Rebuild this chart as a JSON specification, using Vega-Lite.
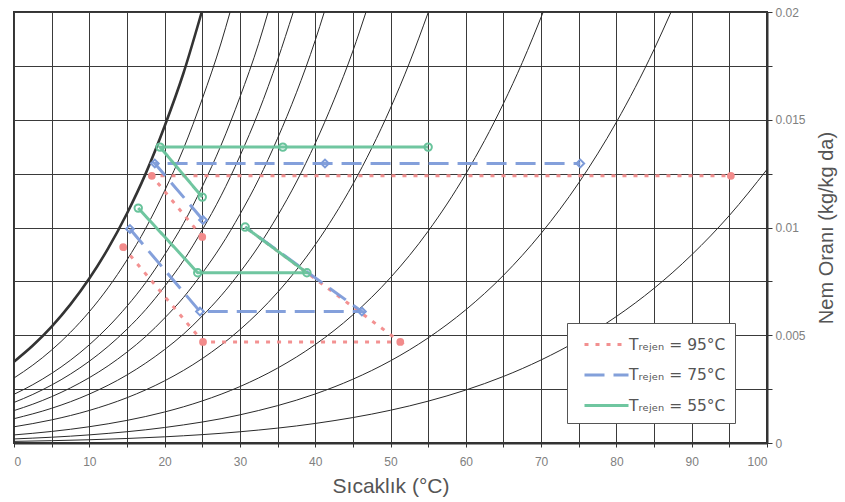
{
  "$schema": "https://vega.github.io/schema/vega-lite/v6.json",
  "width": 753,
  "height": 431,
  "autosize": {"type": "none"},
  "padding": {"left": 14, "top": 12, "right": 78, "bottom": 59},
  "background": "white",
  "config": {
    "font": "Liberation Sans",
    "view": {"stroke": "#333333", "strokeWidth": 2}
  },
  "datasets": {
    "rh": [
      {"rh":100,"T":0,"w":0.003775},{"rh":100,"T":2.5,"w":0.004524},{"rh":100,"T":5,"w":0.005403},{"rh":100,"T":7.5,"w":0.006432},{"rh":100,"T":10,"w":0.007632},{"rh":100,"T":12.5,"w":0.00903},{"rh":100,"T":15,"w":0.01065},{"rh":100,"T":17.5,"w":0.012512},{"rh":100,"T":20,"w":0.014699},{"rh":100,"T":22.5,"w":0.017157},{"rh":100,"T":24.93,"w":0.02},
      {"rh":80,"T":0,"w":0.003017},{"rh":80,"T":2.5,"w":0.003614},{"rh":80,"T":5,"w":0.004315},{"rh":80,"T":7.5,"w":0.005135},{"rh":80,"T":10,"w":0.006091},{"rh":80,"T":12.5,"w":0.007203},{"rh":80,"T":15,"w":0.008491},{"rh":80,"T":17.5,"w":0.009969},{"rh":80,"T":20,"w":0.011704},{"rh":80,"T":22.5,"w":0.013651},{"rh":80,"T":25,"w":0.015966},{"rh":80,"T":27.5,"w":0.018561},{"rh":80,"T":28.7,"w":0.02},
      {"rh":60,"T":0,"w":0.00226},{"rh":60,"T":2.5,"w":0.002706},{"rh":60,"T":5,"w":0.003231},{"rh":60,"T":7.5,"w":0.003843},{"rh":60,"T":10,"w":0.004557},{"rh":60,"T":12.5,"w":0.005387},{"rh":60,"T":15,"w":0.006347},{"rh":60,"T":17.5,"w":0.007447},{"rh":60,"T":20,"w":0.008737},{"rh":60,"T":22.5,"w":0.010182},{"rh":60,"T":25,"w":0.011898},{"rh":60,"T":27.5,"w":0.013817},{"rh":60,"T":30,"w":0.016045},{"rh":60,"T":32.5,"w":0.018548},{"rh":60,"T":33.75,"w":0.02},
      {"rh":50,"T":0,"w":0.001882},{"rh":50,"T":2.5,"w":0.002254},{"rh":50,"T":5,"w":0.00269},{"rh":50,"T":7.5,"w":0.003199},{"rh":50,"T":10,"w":0.003793},{"rh":50,"T":12.5,"w":0.004483},{"rh":50,"T":15,"w":0.00528},{"rh":50,"T":17.5,"w":0.006194},{"rh":50,"T":20,"w":0.007264},{"rh":50,"T":22.5,"w":0.008462},{"rh":50,"T":25,"w":0.009884},{"rh":50,"T":27.5,"w":0.011472},{"rh":50,"T":30,"w":0.013314},{"rh":50,"T":32.5,"w":0.01538},{"rh":50,"T":35,"w":0.01777},{"rh":50,"T":37.09,"w":0.02},
      {"rh":40,"T":0,"w":0.001505},{"rh":40,"T":2.5,"w":0.001801},{"rh":40,"T":5,"w":0.00215},{"rh":40,"T":7.5,"w":0.002557},{"rh":40,"T":10,"w":0.003031},{"rh":40,"T":12.5,"w":0.003581},{"rh":40,"T":15,"w":0.004217},{"rh":40,"T":17.5,"w":0.004945},{"rh":40,"T":20,"w":0.005798},{"rh":40,"T":22.5,"w":0.006751},{"rh":40,"T":25,"w":0.007882},{"rh":40,"T":27.5,"w":0.009144},{"rh":40,"T":30,"w":0.010606},{"rh":40,"T":32.5,"w":0.012243},{"rh":40,"T":35,"w":0.014135},{"rh":40,"T":37.5,"w":0.016252},{"rh":40,"T":40,"w":0.018677},{"rh":40,"T":41.21,"w":0.02},
      {"rh":30,"T":0,"w":0.001128},{"rh":30,"T":5,"w":0.001611},{"rh":30,"T":10,"w":0.00227},{"rh":30,"T":15,"w":0.003157},{"rh":30,"T":20,"w":0.004338},{"rh":30,"T":22.5,"w":0.00505},{"rh":30,"T":25,"w":0.005893},{"rh":30,"T":27.5,"w":0.006833},{"rh":30,"T":30,"w":0.00792},{"rh":30,"T":32.5,"w":0.009138},{"rh":30,"T":35,"w":0.010541},{"rh":30,"T":37.5,"w":0.01211},{"rh":30,"T":40,"w":0.013903},{"rh":30,"T":42.5,"w":0.015922},{"rh":30,"T":45,"w":0.018186},{"rh":30,"T":46.75,"w":0.02},
      {"rh":20,"T":0,"w":0.000752},{"rh":20,"T":5,"w":0.001073},{"rh":20,"T":10,"w":0.001511},{"rh":20,"T":15,"w":0.002101},{"rh":20,"T":20,"w":0.002885},{"rh":20,"T":25,"w":0.003916},{"rh":20,"T":30,"w":0.005258},{"rh":20,"T":35,"w":0.006988},{"rh":20,"T":40,"w":0.0092},{"rh":20,"T":42.5,"w":0.010525},{"rh":20,"T":45,"w":0.012007},{"rh":20,"T":47.5,"w":0.013677},{"rh":20,"T":50,"w":0.015543},{"rh":20,"T":52.5,"w":0.017625},{"rh":20,"T":55.03,"w":0.02},
      {"rh":10,"T":0,"w":0.000375},{"rh":10,"T":5,"w":0.000536},{"rh":10,"T":10,"w":0.000755},{"rh":10,"T":15,"w":0.001049},{"rh":10,"T":20,"w":0.001439},{"rh":10,"T":25,"w":0.001952},{"rh":10,"T":30,"w":0.002618},{"rh":10,"T":35,"w":0.003475},{"rh":10,"T":40,"w":0.004566},{"rh":10,"T":45,"w":0.005946},{"rh":10,"T":50,"w":0.007675},{"rh":10,"T":55,"w":0.009828},{"rh":10,"T":60,"w":0.012489},{"rh":10,"T":65,"w":0.015755},{"rh":10,"T":67.5,"w":0.017651},{"rh":10,"T":70.28,"w":0.02},
      {"rh":5,"T":0,"w":0.000188},{"rh":5,"T":10,"w":0.000377},{"rh":5,"T":20,"w":0.000719},{"rh":5,"T":30,"w":0.001306},{"rh":5,"T":40,"w":0.002275},{"rh":5,"T":45,"w":0.002959},{"rh":5,"T":50,"w":0.003814},{"rh":5,"T":55,"w":0.004876},{"rh":5,"T":60,"w":0.006182},{"rh":5,"T":65,"w":0.007779},{"rh":5,"T":70,"w":0.009726},{"rh":5,"T":75,"w":0.012071},{"rh":5,"T":80,"w":0.014889},{"rh":5,"T":85,"w":0.018262},{"rh":5,"T":87.26,"w":0.02},
      {"rh":2,"T":0,"w":0.000075},{"rh":2,"T":10,"w":0.000151},{"rh":2,"T":20,"w":0.000287},{"rh":2,"T":30,"w":0.000521},{"rh":2,"T":40,"w":0.000907},{"rh":2,"T":50,"w":0.00152},{"rh":2,"T":55,"w":0.001941},{"rh":2,"T":60,"w":0.002458},{"rh":2,"T":65,"w":0.003088},{"rh":2,"T":70,"w":0.003854},{"rh":2,"T":75,"w":0.004773},{"rh":2,"T":80,"w":0.005871},{"rh":2,"T":85,"w":0.007178},{"rh":2,"T":90,"w":0.008732},{"rh":2,"T":95,"w":0.010557},{"rh":2,"T":100,"w":0.012693}
    ],
    "proc": [
      {"s":"Tᵣₑⱼₑₙ = 95°C","seg":"r1","o":1,"T":25.0,"w":0.00956},
      {"s":"Tᵣₑⱼₑₙ = 95°C","seg":"r1","o":2,"T":18.3,"w":0.0124},
      {"s":"Tᵣₑⱼₑₙ = 95°C","seg":"r1","o":3,"T":95.2,"w":0.0124},
      {"s":"Tᵣₑⱼₑₙ = 95°C","seg":"r2","o":1,"T":14.5,"w":0.00909},
      {"s":"Tᵣₑⱼₑₙ = 95°C","seg":"r2","o":2,"T":25.1,"w":0.00469},
      {"s":"Tᵣₑⱼₑₙ = 95°C","seg":"r2","o":3,"T":51.3,"w":0.00469},
      {"s":"Tᵣₑⱼₑₙ = 95°C","seg":"r2","o":4,"T":30.7,"w":0.01002},
      {"s":"Tᵣₑⱼₑₙ = 75°C","seg":"b1","o":1,"T":25.1,"w":0.01035},
      {"s":"Tᵣₑⱼₑₙ = 75°C","seg":"b1","o":2,"T":18.7,"w":0.01297},
      {"s":"Tᵣₑⱼₑₙ = 75°C","seg":"b1","o":3,"T":41.3,"w":0.01297},
      {"s":"Tᵣₑⱼₑₙ = 75°C","seg":"b1","o":4,"T":75.2,"w":0.01297},
      {"s":"Tᵣₑⱼₑₙ = 75°C","seg":"b2","o":1,"T":15.4,"w":0.00993},
      {"s":"Tᵣₑⱼₑₙ = 75°C","seg":"b2","o":2,"T":24.7,"w":0.0061},
      {"s":"Tᵣₑⱼₑₙ = 75°C","seg":"b2","o":3,"T":46.2,"w":0.0061},
      {"s":"Tᵣₑⱼₑₙ = 75°C","seg":"b2","o":4,"T":30.7,"w":0.01002},
      {"s":"Tᵣₑⱼₑₙ = 55°C","seg":"g1","o":1,"T":25.0,"w":0.01141},
      {"s":"Tᵣₑⱼₑₙ = 55°C","seg":"g1","o":2,"T":19.4,"w":0.01373},
      {"s":"Tᵣₑⱼₑₙ = 55°C","seg":"g1","o":3,"T":35.7,"w":0.01373},
      {"s":"Tᵣₑⱼₑₙ = 55°C","seg":"g1","o":4,"T":55.0,"w":0.01373},
      {"s":"Tᵣₑⱼₑₙ = 55°C","seg":"g2","o":1,"T":16.5,"w":0.0109},
      {"s":"Tᵣₑⱼₑₙ = 55°C","seg":"g2","o":2,"T":24.4,"w":0.0079},
      {"s":"Tᵣₑⱼₑₙ = 55°C","seg":"g2","o":3,"T":38.9,"w":0.0079},
      {"s":"Tᵣₑⱼₑₙ = 55°C","seg":"g2","o":4,"T":30.7,"w":0.01002}
    ]
  },
  "encoding": {
    "x": {
      "field": "T", "type": "quantitative",
      "scale": {"domain": [0, 100], "nice": false, "zero": false},
      "axis": {
        "values": [0,5,10,15,20,25,30,35,40,45,50,55,60,65,70,75,80,85,90,95,100],
        "labelExpr": "datum.value % 10 === 0 ? datum.label : ''",
        "grid": true, "gridColor": "#3a3a3a", "gridWidth": 1, "gridOpacity": 1,
        "domainColor": "#333333", "domainWidth": 2,
        "tickColor": "#333333", "tickSize": 4,
        "labelColor": "#808080", "labelFontSize": 12, "labelPadding": 9,
        "title": "Sıcaklık (°C)", "titleFontSize": 21, "titleFontWeight": "normal",
        "titleColor": "#555555", "titlePadding": 8
      }
    },
    "y": {
      "field": "w", "type": "quantitative",
      "scale": {"domain": [0, 0.02], "nice": false},
      "axis": {
        "orient": "right",
        "values": [0,0.0025,0.005,0.0075,0.01,0.0125,0.015,0.0175,0.02],
        "format": "~g",
        "labelExpr": "indexof(['0','0.005','0.01','0.015','0.02'], datum.label) >= 0 ? datum.label : ''",
        "grid": true, "gridColor": "#3a3a3a", "gridWidth": 1, "gridOpacity": 1,
        "domainColor": "#333333", "domainWidth": 2,
        "tickColor": "#333333", "tickSize": 5,
        "labelColor": "#808080", "labelFontSize": 12, "labelPadding": 3,
        "title": "Nem Oranı (kg/kg da)", "titleFontSize": 20, "titleFontWeight": "normal",
        "titleColor": "#555555", "titleAngle": 270, "titlePadding": 31
      }
    }
  },
  "layer": [
    {
      "data": {"name": "rh"},
      "transform": [{"filter": "datum.rh < 100"}],
      "mark": {"type": "line", "interpolate": "monotone", "color": "#2a2a2a", "strokeWidth": 1},
      "encoding": {"detail": {"field": "rh", "type": "nominal"}}
    },
    {
      "data": {"name": "rh"},
      "transform": [{"filter": "datum.rh == 100"}],
      "mark": {"type": "line", "interpolate": "monotone", "color": "#333333", "strokeWidth": 2.6},
      "encoding": {}
    },
    {
      "data": {"name": "proc"},
      "mark": {"type": "line", "strokeWidth": 3, "opacity": 0.95},
      "encoding": {
        "detail": {"field": "seg", "type": "nominal"},
        "order": {"field": "o", "type": "quantitative"},
        "color": {
          "field": "s", "type": "nominal", "title": null,
          "scale": {"domain": ["Tᵣₑⱼₑₙ = 95°C", "Tᵣₑⱼₑₙ = 75°C", "Tᵣₑⱼₑₙ = 55°C"], "range": ["#f28b8b", "#7d9bd9", "#68c39b"]},
          "legend": {
            "orient": "none", "legendX": 553, "legendY": 311,
            "symbolType": "M-2,0H2", "symbolSize": 484, "symbolStrokeWidth": 3, "symbolOffset": 18,
            "labelFontSize": 15.5, "labelColor": "#555555", "labelFont": "DejaVu Sans",
            "padding": 9, "rowPadding": 9.5, "labelOffset": 10,
            "strokeColor": "#555555", "fillColor": "white"
          }
        },
        "strokeDash": {
          "field": "s", "type": "nominal", "title": null,
          "scale": {"domain": ["Tᵣₑⱼₑₙ = 95°C", "Tᵣₑⱼₑₙ = 75°C", "Tᵣₑⱼₑₙ = 55°C"], "range": [[4, 7], [20, 9], [1, 0]]}
        }
      }
    },
    {
      "data": {"name": "proc"},
      "transform": [{"filter": "datum.seg == 'r1' || (datum.seg == 'r2' && datum.o < 4)"}],
      "mark": {"type": "point", "shape": "circle", "filled": true, "color": "#f28b8b", "size": 60, "opacity": 1}
    },
    {
      "data": {"name": "proc"},
      "transform": [{"filter": "datum.seg == 'b1' || (datum.seg == 'b2' && datum.o < 4)"}],
      "mark": {"type": "point", "shape": "diamond", "filled": false, "color": "#7d9bd9", "size": 60, "strokeWidth": 2, "opacity": 1}
    },
    {
      "data": {"name": "proc"},
      "transform": [{"filter": "datum.seg == 'g1' || datum.seg == 'g2'"}],
      "mark": {"type": "point", "shape": "circle", "filled": false, "color": "#68c39b", "size": 55, "strokeWidth": 2, "opacity": 1}
    }
  ]
}
